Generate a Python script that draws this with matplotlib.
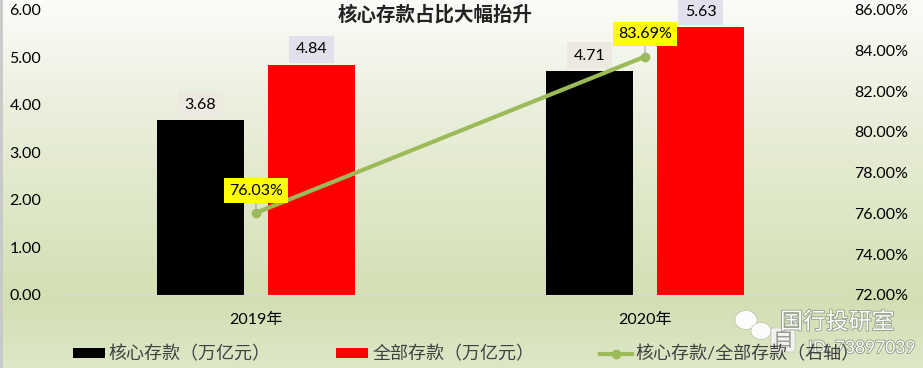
"""Core deposits vs total deposits, bars plus share line on a right axis."""
import matplotlib
matplotlib.use("Agg")
import matplotlib.pyplot as plt
import matplotlib.patheffects as pe
from matplotlib.colors import LinearSegmentedColormap
from matplotlib.patches import Ellipse, FancyBboxPatch
import numpy as np

plt.rcParams["font.family"] = ["Lato", "Noto Sans CJK SC", "DejaVu Sans"]

years = ["2019年", "2020年"]
core_deposits = [3.68, 4.71]
total_deposits = [4.84, 5.63]
core_share = [76.03, 83.69]
left_ticks = [0, 1, 2, 3, 4, 5, 6]
right_ticks = [72, 74, 76, 78, 80, 82, 84, 86]

W, H = 923, 368
fig = plt.figure(figsize=(W / 100, H / 100), dpi=100)

# background gradient
bg = fig.add_axes([0, 0, 1, 1], zorder=0)
cmap = LinearSegmentedColormap.from_list(
    "bg", [(0, "#fbfcf9"), (0.3, "#eaefdc"), (0.82, "#d3dfb3"), (1, "#dde7c8")])
bg.imshow(np.linspace(0, 1, 368).reshape(-1, 1), aspect="auto", cmap=cmap,
          extent=(0, W, H, 0))
bg.set_xlim(0, W); bg.set_ylim(H, 0)
bg.axvline(0.5, color="#c8c8c8", lw=2)
bg.axis("off")

ax = fig.add_axes([61.5 / W, 1 - 295 / H, 778 / W, 285.5 / H], zorder=1)
ax.patch.set_alpha(0)
x = np.arange(len(years))
bar_w = 87 / 389
off = 55.5 / 389
bars1 = ax.bar(x - off, core_deposits, bar_w, color="black", label="核心存款（万亿元）")
bars2 = ax.bar(x + off, total_deposits, bar_w, color="red", label="全部存款（万亿元）")
ax.set_xlim(-0.5, 1.5)
ax.set_ylim(0, 6)
ax.set_xticks(x, years, fontsize=11.5)
ax.set_yticks(left_ticks, [f"{v:.2f}" for v in left_ticks], fontsize=11.5)
ax.tick_params(length=0)
ax.tick_params(axis="y", pad=14.5)
ax.tick_params(axis="x", pad=12.5)
for s in ["top", "left", "right"]:
    ax.spines[s].set_visible(False)
ax.spines["bottom"].set_color("#d9d9d9")

for b, v in zip(bars1, core_deposits):
    ax.annotate(f"{v:.2f}", (b.get_x() + b.get_width() / 2, v), xytext=(0, 11),
                textcoords="offset points", ha="center", va="center", fontsize=11.5,
                bbox=dict(boxstyle="square,pad=0.4", fc="#ece9e0", ec="none"))
for b, v in zip(bars2, total_deposits):
    ax.annotate(f"{v:.2f}", (b.get_x() + b.get_width() / 2, v), xytext=(0, 11),
                textcoords="offset points", ha="center", va="center", fontsize=11.5,
                annotation_clip=False,
                bbox=dict(boxstyle="square,pad=0.4", fc="#e4dfec", ec="none"))

ax2 = ax.twinx()
ax2.patch.set_alpha(0)
line, = ax2.plot(x, core_share, color="#9bbb59", lw=3, marker="o", ms=6,
                 label="核心存款/全部存款（右轴）")
ax2.set_ylim(72, 86)
ax2.set_yticks(right_ticks, [f"{v:.2f}%" for v in right_ticks], fontsize=11.5)
ax2.tick_params(length=0, pad=10.5)
for s in ax2.spines.values():
    s.set_visible(False)
for xi, v in zip(x, core_share):
    ax2.annotate(f"{v:.2f}%", (xi, v), xytext=(0, 16), textcoords="offset points",
                 ha="center", va="center", fontsize=11.5,
                 arrowprops=dict(arrowstyle="-", color="#a6a6a6", lw=0.8, shrinkA=0, shrinkB=0),
                 bbox=dict(boxstyle="square,pad=0.32", fc="#ffff00", ec="none"))

fig.text(435 / W, 1 - 15 / H, "核心存款占比大幅抬升", ha="center", va="center",
         fontsize=14, fontweight="bold", color="#222222",
         family=["Noto Sans CJK SC", "DejaVu Sans"])

leg = fig.legend(handles=[bars1, bars2, line], loc="center left",
                 bbox_to_anchor=(73 / W, 1 - 354 / H), bbox_transform=fig.transFigure,
                 ncol=3, frameon=False, fontsize=13, borderpad=0, borderaxespad=0,
                 handlelength=1.77, handleheight=0.44, handletextpad=0.22, columnspacing=3.62,
                 labelcolor="#404040")

# watermark, drawn in pixel coordinates on a top layer
wm = fig.add_axes([0, 0, 1, 1], zorder=5)
wm.set_xlim(0, W); wm.set_ylim(H, 0)
wm.axis("off")
shadow = [pe.withStroke(linewidth=1.2, foreground="#8f9a86")]
wm.add_patch(Ellipse((746, 320), 22, 19, fc="white", ec="#b8c0a8", lw=0.5, alpha=0.95))
wm.add_patch(Ellipse((761, 331), 20, 17, fc="white", ec="#b8c0a8", lw=0.5, alpha=0.95))
wm.add_patch(FancyBboxPatch((773, 330), 20, 20, boxstyle="round,pad=2", fc="#f4f4f0",
                            ec="#c4c4c4", lw=0.6, alpha=0.95))
wm.text(783, 340, "自", ha="center", va="center", fontsize=15, color="#9a9a9a")
wm.text(780, 322, "国行投研室", ha="left", va="center", fontsize=16.5, color="white",
        path_effects=shadow)
wm.text(808, 348, "ID: 73897039", ha="left", va="center", fontsize=12.5, color="white",
        path_effects=shadow)

fig.savefig("out.png", dpi=100)
